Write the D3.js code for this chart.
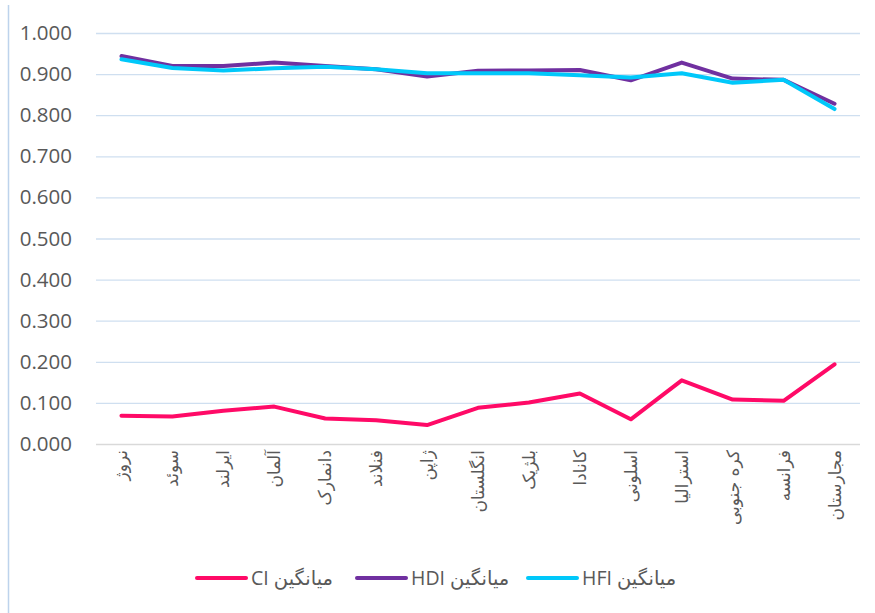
<!DOCTYPE html>
<html>
<head>
<meta charset="utf-8">
<script src="https://cdn.jsdelivr.net/npm/d3@7"></script>
<style>
  body { margin: 0; background: #fff; }
  text { font-family: "Open Sans", "DejaVu Sans", sans-serif; fill: #595959; }
</style>
</head>
<body>
<div id="chart"></div>
<script>
const width = 875, height = 613;

// data
const countries = ["نروژ", "سوئد", "ایرلند", "آلمان", "دانمارک", "فنلاند", "ژاپن", "انگلستان",
  "بلژیک", "کانادا", "اسلونی", "استرالیا", "کره جنوبی", "فرانسه", "مجارستان"];
const ciValues = [0.069, 0.067, 0.081, 0.091, 0.062, 0.058, 0.046, 0.088,
  0.101, 0.123, 0.060, 0.155, 0.108, 0.105, 0.194];
const hdiValues = [0.944, 0.920, 0.920, 0.928, 0.920, 0.912, 0.894, 0.908,
  0.909, 0.910, 0.885, 0.928, 0.889, 0.886, 0.828];
const hfiValues = [0.936, 0.915, 0.909, 0.914, 0.918, 0.912, 0.902, 0.902,
  0.902, 0.897, 0.892, 0.902, 0.879, 0.886, 0.815];
const yTicks = [0, 0.1, 0.2, 0.3, 0.4, 0.5, 0.6, 0.7, 0.8, 0.9, 1.0];

const series = [
  { name: "میانگین CI", values: ciValues, color: "#ff0a67" },
  { name: "میانگین HDI", values: hdiValues, color: "#7030a0" },
  { name: "میانگین HFI", values: hfiValues, color: "#00c8fa" }
];

var margin = { top: 33, left: 96, right: 15, bottom: 169 };
var innerW = width - margin.left - margin.right,
  innerH = height - margin.top - margin.bottom;

const svg = d3.select("#chart").append("svg")
  .attr("width", width)
  .attr("height", height);

// chart border on the left
svg.append("line")
  .attr("x1", 8.5).attr("x2", 8.5)
  .attr("y1", 5).attr("y2", height)
  .attr("stroke", "#bdd3ec")
  .attr("stroke-width", 1.5);

const g = svg.append("g")
  .attr("transform", "translate(" + margin.left + "," + margin.top + ")");

var x = d3.scalePoint().domain(countries).range([0, innerW]).padding(0.5);
var y = d3.scaleLinear().domain([0, 1]).range([innerH, 0]);

// gridlines
g.append("g")
  .attr("class", "grid")
  .call(d3.axisLeft(y).tickValues(yTicks).tickSize(-innerW).tickFormat(""))
  .call(s => s.select(".domain").remove())
  .call(s => s.selectAll(".tick line")
    .attr("stroke", d => d === 0 ? "#d9d9d9" : "#cfdff0")
    .attr("stroke-width", 1.3));

// y labels
g.append("g")
  .call(d3.axisLeft(y).tickValues(yTicks).tickSize(0).tickPadding(24).tickFormat(d3.format(".3f")))
  .call(s => s.select(".domain").remove())
  .call(s => s.selectAll("text")
    .style("font-size", "20.5px")
    .style("font-family", "'Open Sans', sans-serif")
    .attr("fill", "#595959"));

// x labels, rotated
g.append("g")
  .selectAll("text")
  .data(countries)
  .enter()
  .append("text")
  .attr("transform", d => "translate(" + (x(d) + 6) + "," + (innerH + 6) + ") rotate(-90)")
  .attr("text-anchor", "end")
  .style("font-family", "'DejaVu Sans', sans-serif")
  .style("font-size", "17px")
  .text(d => d);

// lines
var line = d3.line()
  .x((d, i) => x(countries[i]))
  .y(d => y(d));

g.selectAll(".series")
  .data(series)
  .enter()
  .append("path")
  .attr("class", "series")
  .attr("fill", "none")
  .attr("stroke", d => d.color)
  .attr("stroke-width", 4)
  .attr("stroke-linejoin", "round")
  .attr("stroke-linecap", "round")
  .attr("d", d => line(d.values));

// legend
var legendX = [197, 357, 528];
var legend = svg.append("g").attr("class", "legend");
var item = legend.selectAll(".legend-item")
  .data(series)
  .enter()
  .append("g")
  .attr("transform", (d, i) => "translate(" + legendX[i] + ",578)");

item.append("line")
  .attr("x1", 0).attr("x2", 49)
  .attr("stroke", d => d.color)
  .attr("stroke-width", 4)
  .attr("stroke-linecap", "round");

item.append("text")
  .attr("x", 54)
  .attr("y", 7)
  .attr("direction", "rtl")
  .attr("text-anchor", "end")
  .style("font-size", "19.5px")
  .text(d => d.name);
</script>
</body>
</html>
